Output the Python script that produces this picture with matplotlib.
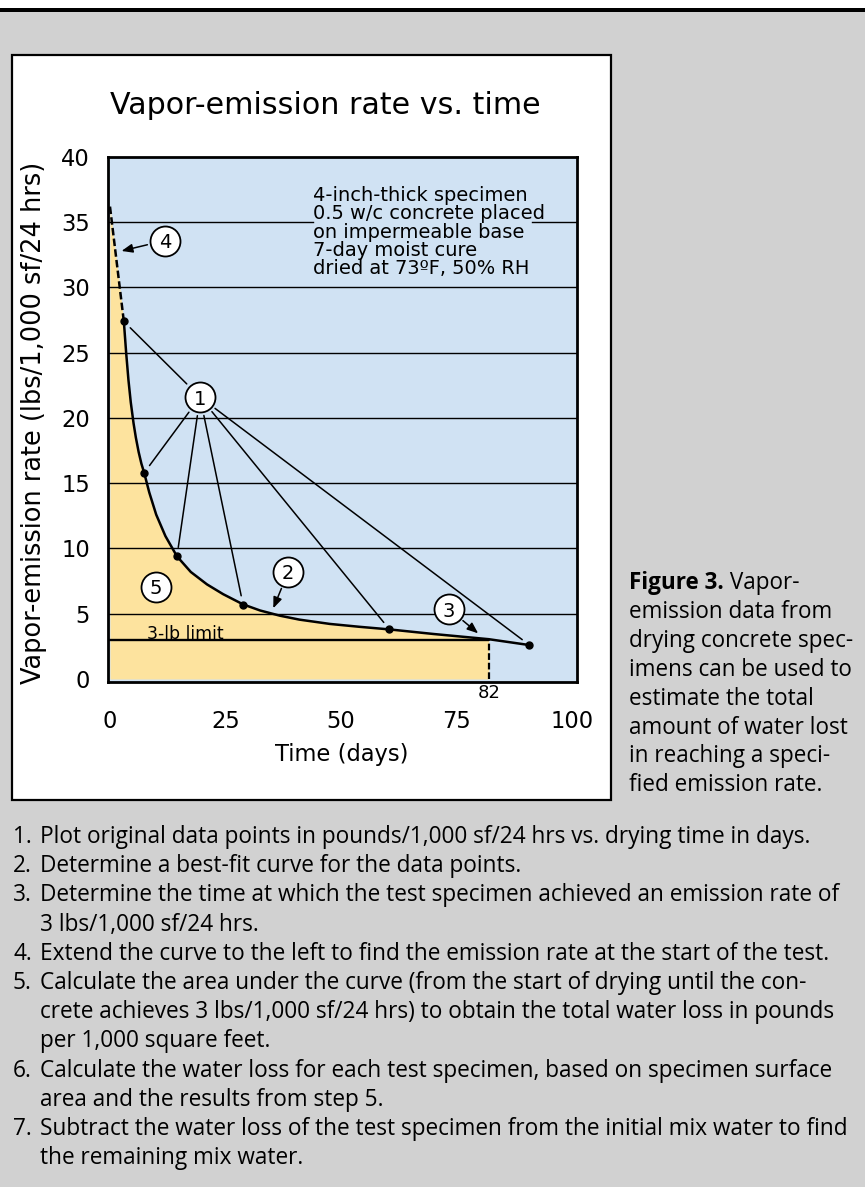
import matplotlib
matplotlib.use('Agg')
import matplotlib.pyplot as plt
from matplotlib.patches import Rectangle

W, H = 865, 1187

# ---------------- data ----------------
point_days = [3.0, 7.4, 14.5, 28.8, 60.5, 90.8]
point_rates = [27.4, 15.8, 9.4, 5.7, 3.8, 2.6]
extrap_days = [0.0, 3.0]
extrap_rates = [36.2, 27.4]
curve_days = [3.0, 3.5, 4.0, 4.5, 5.1, 5.6, 6.2, 6.8, 7.4, 8.5, 10.0, 12.0, 14.5,
              17.5, 21.0, 24.5, 28.8, 32.5, 36.8, 41.0, 47.6, 54.0, 60.5, 70.0, 82.0, 90.8]
curve_rates = [27.4, 25.0, 22.9, 21.2, 19.6, 18.5, 17.4, 16.5, 15.8, 14.3, 12.6, 10.95, 9.4,
               8.2, 7.25, 6.5, 5.72, 5.25, 4.85, 4.55, 4.22, 4.0, 3.8, 3.45, 3.05, 2.6]
limit_rate = 3
limit_day = 82
y_ticks = [0, 5, 10, 15, 20, 25, 30, 35, 40]
x_ticks = [0, 25, 50, 75, 100]
grid_rates = [5, 10, 15, 20, 25, 30, 35]

title = 'Vapor-emission rate vs. time'
ylabel = 'Vapor-emission rate (lbs/1,000 sf/24 hrs)'
xlabel = 'Time (days)'
spec_lines = ['4-inch-thick specimen', '0.5 w/c concrete placed', 'on impermeable base',
              '7-day moist cure', 'dried at 73ºF, 50% RH']
caption_lines = ['emission data from', 'drying concrete spec-', 'imens can be used to',
                 'estimate the total', 'amount of water lost', 'in reaching a speci-',
                 'fied emission rate.']
steps = [('1.', 'Plot original data points in pounds/1,000 sf/24 hrs vs. drying time in days.'),
         ('2.', 'Determine a best-fit curve for the data points.'),
         ('3.', 'Determine the time at which the test specimen achieved an emission rate of'),
         ('', '3 lbs/1,000 sf/24 hrs.'),
         ('4.', 'Extend the curve to the left to find the emission rate at the start of the test.'),
         ('5.', 'Calculate the area under the curve (from the start of drying until the con-'),
         ('', 'crete achieves 3 lbs/1,000 sf/24 hrs) to obtain the total water loss in pounds'),
         ('', 'per 1,000 square feet.'),
         ('6.', 'Calculate the water loss for each test specimen, based on specimen surface'),
         ('', 'area and the results from step 5.'),
         ('7.', 'Subtract the water loss of the test specimen from the initial mix water to find'),
         ('', 'the remaining mix water.')]

# ---------------- helpers ----------------
def fx(px):
    return px / W

def fy(py):
    return 1 - py / H

BLUE = '#d0e2f3'
YELLOW = '#fde39e'
GRAY = '#d1d1d1'
CHART_FONT = 'DejaVu Sans'
TEXT_FONT = 'Open Sans'

fig = plt.figure(figsize=(W / 100, H / 100), dpi=100, facecolor=GRAY)
renderer = fig.canvas.get_renderer()

def fit(t, target, vertical=False):
    bb = t.get_window_extent(renderer=renderer)
    w = bb.height if vertical else bb.width
    t.set_fontsize(t.get_fontsize() * target / w)
    return t

# page decorations
fig.add_artist(Rectangle((0, fy(8)), 1, 8 / H, transform=fig.transFigure,
                         facecolor='white', edgecolor='none', zorder=-3))
fig.add_artist(Rectangle((0, fy(12)), 1, 4 / H, transform=fig.transFigure,
                         facecolor='black', edgecolor='none', zorder=-3))
fig.add_artist(Rectangle((fx(12), fy(800)), (611 - 12) / W, (800 - 55) / H,
                         transform=fig.transFigure, facecolor='white',
                         edgecolor='black', linewidth=1.6, zorder=-2))

# ---------------- axes ----------------
ax = fig.add_axes([fx(108), fy(682), (577 - 108) / W, (682 - 157) / H])
ax.set_facecolor(BLUE)
ax.set_xlim(-0.43, 101.1)
ax.set_ylim(-0.23, 40)
for s in ax.spines.values():
    s.set_linewidth(2.0)
    s.set_color('black')
ax.set_xticks(x_ticks)
ax.set_yticks(y_ticks)
ax.tick_params(axis='both', length=0, labelsize=16.3)
ax.tick_params(axis='y', pad=13)
ax.tick_params(axis='x', pad=20)
for lab in ax.get_xticklabels() + ax.get_yticklabels():
    lab.set_family(CHART_FONT)

# fill under curve up to the 3-lb day
fill_d = extrap_days[:1] + [d for d in curve_days if d <= limit_day]
fill_r = extrap_rates[:1] + [r for d, r in zip(curve_days, curve_rates) if d <= limit_day]
ax.fill_between(fill_d, fill_r, 0, color=YELLOW, lw=0, zorder=1)

# gridlines
gap_lo = (313 - 108) / 469
gap_hi = (532 - 108) / 469
for r in grid_rates:
    if r == 35:
        ax.axhline(r, xmax=gap_lo, color='black', lw=1.0, zorder=2)
        ax.axhline(r, xmin=gap_hi, color='black', lw=1.0, zorder=2)
    else:
        ax.axhline(r, color='black', lw=1.0, zorder=2)

# 3-lb limit line and drop line
ax.hlines(limit_rate, ax.get_xlim()[0], limit_day, color='black', lw=1.7, zorder=3)
lim_curve = [r for d, r in zip(curve_days, curve_rates) if d == limit_day][0]
ax.plot([limit_day, limit_day], [0, lim_curve], color='black', lw=1.6,
        dashes=(3, 1.3), zorder=3)

# curve
ax.plot(extrap_days, extrap_rates, color='black', lw=1.8, dashes=(3, 1.3), zorder=4)
ax.plot(curve_days, curve_rates, color='black', lw=1.8, zorder=4,
        solid_capstyle='round', solid_joinstyle='round')
ax.plot(point_days, point_rates, 'o', color='black', ms=5, zorder=5)

# circled labels
circles = {'1': (19.5, 21.6), '2': (38.6, 8.22), '3': (73.4, 5.36),
           '4': (11.9, 33.6), '5': (9.9, 7.07)}
for lab, (cx, cy) in circles.items():
    ax.plot(cx, cy, 'o', ms=21.6, mfc='white', mec='black', mew=1.3, zorder=7)
    ax.text(cx, cy, lab, ha='center', va='center_baseline', fontsize=14,
            family=CHART_FONT, zorder=8)

# leader lines from circle 1 to each data point
for d, r in zip(point_days, point_rates):
    ax.annotate('', xy=(d, r), xytext=circles['1'],
                arrowprops=dict(arrowstyle='-', lw=1.1, color='black',
                                shrinkA=13.5, shrinkB=6.5), zorder=6)

# arrows from circles 4, 2, 3
arrow_tips = {'4': (2.5, 32.8), '2': (35.35, 5.42), '3': (79.7, 3.5)}
for lab, tip in arrow_tips.items():
    ax.annotate('', xy=tip, xytext=circles[lab],
                arrowprops=dict(arrowstyle='-|>,head_length=0.55,head_width=0.22',
                                mutation_scale=12, lw=1.1, color='black',
                                shrinkA=13, shrinkB=0), zorder=6)

# "82" label under the axis
ax.annotate(str(limit_day), xy=(limit_day, 0), xycoords=('data', 'axes fraction'),
            xytext=(0, -8), textcoords='offset points', ha='center', va='center',
            fontsize=13, family=CHART_FONT)

# ---------------- texts ----------------
t = fig.text(fx(325), fy(105), title, ha='center', va='center', fontsize=21.6,
             family=CHART_FONT)
fit(t, 431)

t = fig.text(fx(34), fy(423), ylabel, ha='center', va='center', rotation=90,
             fontsize=16.3, family=CHART_FONT)
fit(t, 522, vertical=True)

fig.text(fx(342), fy(755), xlabel, ha='center', va='center', fontsize=16.3,
         family=CHART_FONT)

t0 = fig.text(fx(313), fy(193.3), spec_lines[0], ha='left', va='center_baseline',
              fontsize=14, family=CHART_FONT)
fit(t0, 214)
spec_size = t0.get_fontsize()
for i, line in enumerate(spec_lines[1:], start=1):
    fig.text(fx(313), fy(193.3 + i * 18.35), line, ha='left', va='center_baseline',
             fontsize=spec_size, family=CHART_FONT)

t = fig.text(fx(146.7), fy(631.7), '3-lb limit', ha='left', va='center_baseline',
             fontsize=12.5, family=CHART_FONT)
fit(t, 77)

# figure caption
cap_y0 = 580
cap_dy = 28.9
tb = fig.text(fx(629), fy(cap_y0), 'Figure 3.', ha='left', va='center_baseline',
              fontsize=14, family=TEXT_FONT, weight='bold')
probe = fig.text(fx(629), fy(cap_y0 + 2 * cap_dy), caption_lines[1], ha='left',
                 va='center_baseline', fontsize=14, family=TEXT_FONT)
fit(probe, 226)
cap_size = probe.get_fontsize()
tb.set_fontsize(cap_size)
wb = tb.get_window_extent(renderer=renderer).width
fig.text(fx(629) + wb / W, fy(cap_y0), ' Vapor-', ha='left', va='center_baseline',
         fontsize=cap_size, family=TEXT_FONT)
for i, line in enumerate(caption_lines):
    if i == 1:
        continue
    fig.text(fx(629), fy(cap_y0 + (i + 1) * cap_dy), line, ha='left',
             va='center_baseline', fontsize=cap_size, family=TEXT_FONT)

# numbered steps
step_y0 = 834
step_dy = 29.2
p = fig.text(fx(40), fy(step_y0), steps[0][1], ha='left', va='center_baseline',
             fontsize=14, family=TEXT_FONT)
fit(p, 787)
step_size = p.get_fontsize() * 0.985
p.set_fontsize(step_size)
for i, (num, line) in enumerate(steps):
    y = fy(step_y0 + i * step_dy)
    if num:
        fig.text(fx(13), y, num, ha='left', va='center_baseline', fontsize=step_size,
                 family=TEXT_FONT)
    if i > 0:
        fig.text(fx(40), y, line, ha='left', va='center_baseline', fontsize=step_size,
                 family=TEXT_FONT)

fig.savefig('out.png', dpi=100, facecolor=GRAY)
